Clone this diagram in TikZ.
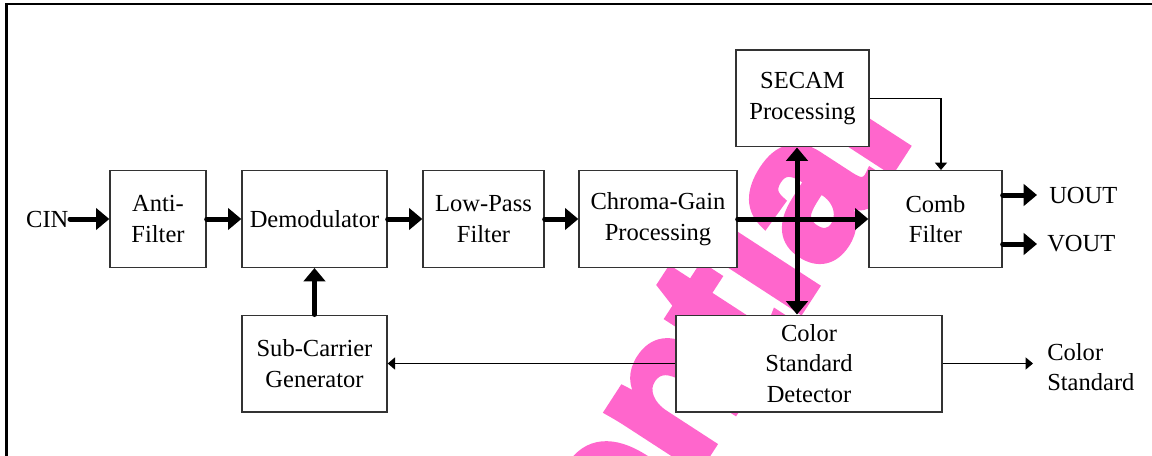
\documentclass[tikz,border=0pt]{standalone}
\usepackage{fontspec}
\setmainfont{Liberation Serif}
\newfontfamily\stampfont{Liberation Sans}[BoldFeatures={FakeBold=4}]
\usetikzlibrary{arrows.meta}
\definecolor{stamppink}{RGB}{255,102,204}
\definecolor{edge}{RGB}{51,51,51}

\begin{document}
\begin{tikzpicture}[x=0.75pt,y=-0.75pt,font=\fontsize{18.4}{23}\selectfont]
	\tikzset{procbox/.style={draw=edge,fill=white,line width=1pt,align=center,minimum height=72.5pt,minimum width=#1*0.75pt,inner sep=2pt}}
	\tikzset{fatarrow/.style={line width=3.75pt,line cap=round,-{Triangle[length=10pt,width=16pt]}}}
	\tikzset{thinarrow/.style={line width=0.9pt,-{Triangle[length=5.5pt,width=9pt]}}}
	\useasboundingbox (0,0) rectangle (1152,456);
	\begin{scope}
		\clip (0,0) rectangle (1152,456);
		\node[rotate=57,anchor=base east,inner sep=0pt,text=stamppink,font=\stampfont\bfseries\fontsize{150}{150}\selectfont] (stamp) at (914,135) {Confidential};
	\end{scope}
	\draw[line width=1.9pt] (6.5,456) -- (6.5,4) -- (1152,4);
	% blocks
	\node[procbox=96] (anti) at (158,219) {Anti-\\Filter};
	\node[procbox=145] (demod) at (314.5,219) {Demodulator};
	\node[procbox=145] (subc) at (314.5,363.5) {Sub-Carrier\\Generator};
	\node[procbox=121] (lpf) at (483.5,219) {Low-Pass\\Filter};
	\node[procbox=158] (chroma) at (658,219) {Chroma-Gain\\Processing};
	\node[procbox=133] (secam) at (802.5,98.5) {SECAM\\Processing};
	\node[procbox=133] (comb) at (935.5,219) {Comb\\Filter};
	\node[procbox=266] (csd) at (809,363.5) {Color\\Standard\\Detector};
	% pins
	\node[anchor=east,inner sep=1pt] (cin) at (70,219) {CIN};
	\node[anchor=west,inner xsep=9pt] (uout) at (1037,195) {UOUT};
	\node[anchor=west,inner xsep=7.5pt] (vout) at (1037,244) {VOUT};
	\node[anchor=west,align=left,inner xsep=10.5pt] (cstd) at (1033,367) {Color\\Standard};
	\coordinate (xing) at (797,219);
	% signal path
	\draw[fatarrow] (cin.east) -- (anti.west);
	\draw[fatarrow] (anti) -- (demod);
	\draw[fatarrow] (demod) -- (lpf);
	\draw[fatarrow] (lpf) -- (chroma);
	\draw[fatarrow] (chroma) -- (comb);
	\draw[fatarrow,{Triangle[length=10pt,width=16pt]}-{Triangle[length=10pt,width=16pt]}] (xing |- secam.south) -- (xing |- csd.north);
	\draw[fatarrow] (subc) -- (demod);
	\draw[fatarrow] (comb.east |- uout) -- (uout.west);
	\draw[fatarrow] (comb.east |- vout) -- (vout.west);
	\draw[thinarrow] (secam.east) -| ([xshift=4.1pt]comb.north);
	\draw[thinarrow] (csd.west) -- (subc.east);
	\draw[thinarrow] (csd.east) -- (csd.east -| cstd.west);
\end{tikzpicture}
\end{document}
